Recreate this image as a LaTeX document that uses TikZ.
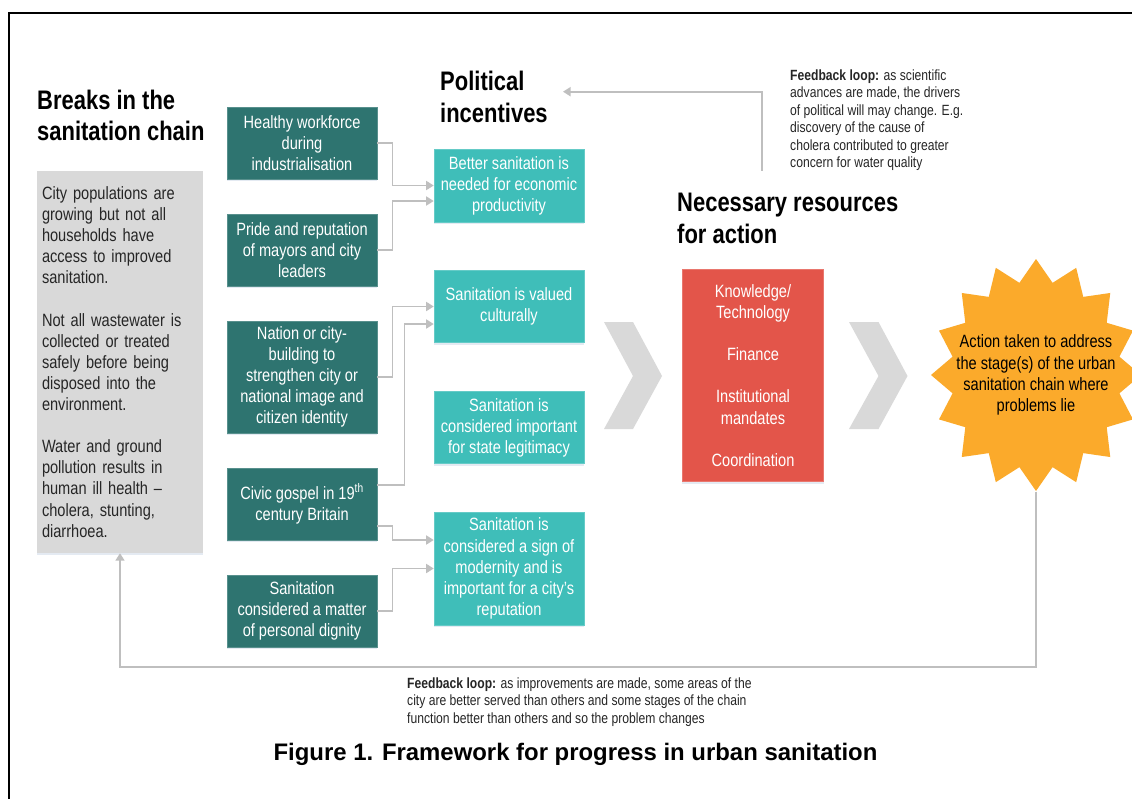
\documentclass[tikz,border=0pt]{standalone}
\usepackage{fontspec}
\setmainfont{Liberation Sans}[FakeStretch=0.82]
\newfontfamily\capfont{Liberation Sans}
\usetikzlibrary{arrows.meta,calc,shadows}
\definecolor{darkteal}{HTML}{2E7470}
\definecolor{lightteal}{HTML}{3FBEB9}
\definecolor{redc}{HTML}{E3554A}
\definecolor{starc}{HTML}{FBAA2B}
\definecolor{grayboxc}{HTML}{D9D9D9}
\definecolor{chevc}{HTML}{D9D9D9}
\definecolor{connc}{HTML}{BFBFBF}
\definecolor{txtc}{HTML}{262626}
\definecolor{shadowc}{HTML}{C4D2E4}
\begin{document}
\begin{tikzpicture}[x=1pt,y=-1pt,
  bodyfont/.style={font=\fontsize{17.8}{21.1}\selectfont},
  headfont/.style={font=\bfseries\fontsize{26.8}{31.7}\selectfont},
  notefont/.style={font=\fontsize{14.8}{17.4}\selectfont},
  tbox/.style={bodyfont, text=white, align=center, inner xsep=5pt, inner ysep=0pt,
    minimum width=150pt, fill=#1, draw=#1!80!white, line width=0.6pt,
    drop shadow={shadow xshift=0pt, shadow yshift=-2pt, opacity=0.45, fill=shadowc}},
  dbox/.style={tbox=darkteal},
  lbox/.style={tbox=lightteal},
  heading/.style={headfont, anchor=north west, inner sep=0pt, align=left, text=black},
  note/.style={notefont, anchor=north west, inner sep=0pt, align=left, text=txtc},
  conn/.style={draw=connc, line width=1.6pt, -{Triangle[width=9pt,length=7.5pt]}},
  chev/.style={fill=chevc}
]
\useasboundingbox (0,0) rectangle (1132,798);
\clip (0,0) rectangle (1132,798);
\fill[white] (0,0) rectangle (1132,798);

% frame
\draw[line width=2.2pt] (9,802) -- (9,13) -- (1136,13);

% headings
\node[heading] (breakshead) at (37,89.5) {Breaks in the\\sanitation chain};
\node[heading] (polhead) at (440,71) {Political\\incentives};
\node[heading] (reshead) at (677,192.8) {Necessary resources\\for action};

% gray box
\node[bodyfont, fill=grayboxc, text=txtc, align=left, text width=156pt, inner xsep=5pt, inner ysep=0pt,
      minimum width=166pt, minimum height=382pt,
      drop shadow={shadow xshift=0pt, shadow yshift=-2pt, opacity=0.45, fill=shadowc}] (gray) at (120,362)
  {City populations are\\growing but not all\\households have\\access to improved\\sanitation.\\[21.1pt]
   Not all wastewater is\\collected or treated\\safely before being\\disposed into the\\environment.\\[21.1pt]
   Water and ground\\pollution results in\\human ill health --\\cholera, stunting,\\diarrhoea.};

% dark teal boxes
\node[dbox, minimum height=72pt] (d1) at (302,143) {Healthy workforce\\during\\industrialisation};
\node[dbox, minimum height=72pt] (d2) at (302,250) {Pride and reputation\\of mayors and city\\leaders};
\node[dbox, minimum height=112pt] (d3) at (302,377) {Nation or city-\\building to\\strengthen city or\\national image and\\citizen identity};
\node[dbox, minimum height=72pt] (d4) at (302,504) {Civic gospel in 19\textsuperscript{th}\\century Britain};
\node[dbox, minimum height=72pt] (d5) at (302,611) {Sanitation\\considered a matter\\of personal dignity};

% light teal boxes
\node[lbox, minimum height=73pt] (l1) at (509,185.5) {Better sanitation is\\needed for economic\\productivity};
\node[lbox, minimum height=72pt] (l2) at (509,306.5) {Sanitation is valued\\culturally};
\node[lbox, minimum height=72pt] (l3) at (509,427.5) {Sanitation is\\considered important\\for state legitimacy};
\node[lbox, minimum height=113pt] (l4) at (509,568.5) {Sanitation is\\considered a sign of\\modernity and is\\important for a city’s\\reputation};

% connectors
\draw[conn] (d1.east) -- ++(15,0) |- (l1.west);
\draw[conn] (d2.east) -- ++(15,0) |- ($(l1.west)+(0,15.5)$);
\draw[conn] (d3.east) -- ++(15,0) |- (l2.west);
\draw[conn] ($(d4.east)+(0,-19)$) -- ++(27,0) |- ($(l2.west)+(0,17.5)$);
\draw[conn] ($(d4.east)+(0,22)$) -- ++(15,0) |- ($(l4.west)+(0,-28.5)$);
\draw[conn] (d5.east) -- ++(15,0) |- (l4.west);

% chevrons
\fill[chev] (604,322) -- (633,322) -- (662,376) -- (633,429) -- (604,429) -- (633,376) -- cycle;
\fill[chev] (849,322) -- (878.5,322) -- (907.5,376) -- (878.5,429) -- (849,429) -- (878.5,376) -- cycle;

% resources box
\node[bodyfont, fill=redc, draw=redc!80!white, line width=0.6pt, text=white, align=center,
      inner sep=0pt, minimum width=141.5pt, minimum height=212.5pt,
      drop shadow={shadow xshift=0pt, shadow yshift=-2pt, opacity=0.45, fill=shadowc}] (res) at (753,375.5)
  {Knowledge/\\Technology\\[21.1pt]Finance\\[21.1pt]Institutional\\mandates\\[21.1pt]Coordination};

% star
\fill[starc] plot[variable=\k, samples at={0,...,31}]
  ({1036+105*(0.905+0.095*cos(180*\k))*cos(90+11.25*\k)},
   {375-116*(0.905+0.095*cos(180*\k))*sin(90+11.25*\k)}) -- cycle;
\node[bodyfont, text=black, align=center, inner sep=0pt] (action) at (1036,375)
  {Action taken to address\\the stage(s) of the urban\\sanitation chain where\\problems lie};
\coordinate (starbot) at (1036,491.5);

% feedback loops
\coordinate (fbtop) at (761.7,170.7);
\coordinate (fbtopend) at (563,91.7);
\draw[conn] (fbtop) |- (fbtopend);
\draw[conn] (starbot) -- ++(0,175.5) -| (gray.south);

\node[note] (note1) at (790,69.5) {\textbf{Feedback loop:} as scientific\\advances are made, the drivers\\of political will may change. E.g.\\discovery of the cause of\\cholera contributed to greater\\concern for water quality};
\node[note] (note2) at (407,677.5) {\textbf{Feedback loop:} as improvements are made, some areas of the\\city are better served than others and some stages of the chain\\function better than others and so the problem changes};

% caption
\node[font=\capfont\bfseries\fontsize{23.9}{28}\selectfont, anchor=base, inner sep=0pt] (caption) at (575.5,760.5)
  {Figure 1. Framework for progress in urban sanitation};
\end{tikzpicture}
\end{document}
